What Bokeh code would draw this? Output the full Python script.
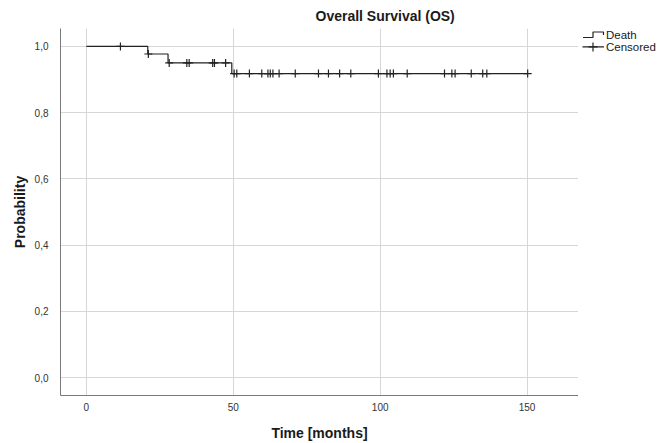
from bokeh.plotting import figure
from bokeh.layouts import row
from bokeh.models import Range1d, FixedTicker, CustomJSTickFormatter
from bokeh.core.properties import value
from bokeh.embed import file_html
from bokeh.resources import INLINE

# Kaplan-Meier step data
step_times = [0, 20.9, 27.8, 49.5, 150.2]
step_surv = [1.0, 0.977, 0.950, 0.918, 0.918]

# Censored observations
cens_times = [11.6, 21.1,
              28.2, 34.2, 35.0, 43.0, 43.6, 47.4,
              50.3, 51.2, 55.5, 59.7, 61.8, 62.6, 63.5, 65.6, 71.1, 79.0, 82.4, 86.2,
              90.0, 99.4, 102.3, 103.4, 104.5, 109.2, 121.9, 124.4, 125.5, 131.0,
              134.9, 136.3, 150.2]
cens_surv = [1.0, 0.977,
             0.950, 0.950, 0.950, 0.950, 0.950, 0.950,
             0.918, 0.918, 0.918, 0.918, 0.918, 0.918, 0.918, 0.918, 0.918, 0.918, 0.918, 0.918,
             0.918, 0.918, 0.918, 0.918, 0.918, 0.918, 0.918, 0.918, 0.918, 0.918,
             0.918, 0.918, 0.918]

x_ticks = [0, 50, 100, 150]
y_ticks = [0.0, 0.2, 0.4, 0.6, 0.8, 1.0]
legend_labels = ["Death", "Censored"]

FONT = "Liberation Sans"
INK = "#222222"

p = figure(width=578, height=443, output_backend="svg", toolbar_location=None,
           x_range=Range1d(-8.8, 167.5), y_range=Range1d(-0.054, 1.054),
           min_border_left=60, min_border_right=0, min_border_top=27, min_border_bottom=48)
p.outline_line_color = None
p.background_fill_color = "white"
p.border_fill_color = "white"

p.title.text = "Overall Survival (OS)"
p.title.align = "left"
p.title.offset = 255
p.title.text_font = FONT
p.title.text_font_size = "14px"
p.title.text_font_style = "bold"
p.title.text_color = "#1a1a1a"

for ax in (p.xaxis[0], p.yaxis[0]):
    ax.axis_line_color = "#7a7a7a"
    ax.axis_line_width = 1
    ax.major_tick_line_color = None
    ax.minor_tick_line_color = None
    ax.major_label_text_font = FONT
    ax.major_label_text_font_size = "10px"
    ax.major_label_text_color = "#333333"
    ax.axis_label_text_font = FONT
    ax.axis_label_text_font_size = "14px"
    ax.axis_label_text_font_style = "bold"
    ax.axis_label_text_color = "#1a1a1a"

p.xaxis.axis_label = "Time [months]"
p.yaxis.axis_label = "Probability"
p.xaxis.ticker = FixedTicker(ticks=x_ticks)
p.yaxis.ticker = FixedTicker(ticks=y_ticks)
p.yaxis.formatter = CustomJSTickFormatter(code="return tick.toFixed(1).replace('.', ',');")
p.xaxis.major_label_standoff = 1
p.yaxis.major_label_standoff = 6
p.xaxis.axis_label_standoff = 11
p.yaxis.axis_label_standoff = 4

p.xgrid.ticker = FixedTicker(ticks=x_ticks)
p.ygrid.ticker = FixedTicker(ticks=y_ticks)
p.grid.grid_line_color = "#d6d6d6"
p.grid.grid_line_width = 1

p.step(step_times, step_surv, mode="after", line_color=INK, line_width=1.2)
p.scatter(cens_times, cens_surv, marker="cross", size=8, line_color=INK, line_width=1.2)

# Legend panel: frame is aligned with the main plot's frame (canvas pixels 27..395, y downward)
q = figure(width=79, height=443, output_backend="svg", toolbar_location=None,
           x_range=Range1d(0, 79), y_range=Range1d(395, 27),
           min_border=0, x_axis_type=None, y_axis_type=None)
q.outline_line_color = None
q.grid.visible = False
q.background_fill_color = "white"
q.border_fill_color = "white"
# Death icon: step symbol
q.line([4.5, 14.5, 14.5, 25, 25], [36, 36, 30.5, 30.5, 33.5], line_color=INK, line_width=1.2)
# Censored icon: line with cross
q.line([4, 25.5], [45.5, 45.5], line_color=INK, line_width=1.2)
q.scatter([14.5], [45.5], marker="cross", size=9, line_color=INK, line_width=1.2)
q.text([27.5, 27.5], [34, 46], text=legend_labels, text_font=value(FONT),
       text_font_size="11.5px", text_color="#1a1a1a", text_baseline="middle", text_align="left")

open("out.html", "w").write(file_html(row(p, q), INLINE))
